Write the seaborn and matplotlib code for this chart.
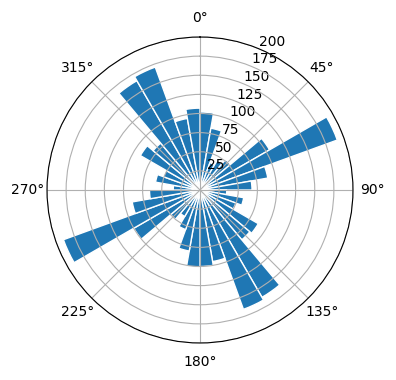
import numpy as np
import pandas as pd
import seaborn as sns
from matplotlib import pyplot as plt

# wind-rose style counts, one bar per 10 degree sector (sector centres in degrees)
directions = list(range(5, 360, 10))
counts = [102, 82, 38, 45, 52, 105, 191, 90, 68,
          35, 58, 50, 88, 85, 162, 166, 95, 100,
          101, 81, 55, 40, 50, 100, 190, 90, 66,
          35, 59, 51, 90, 80, 165, 171, 95, 107]
r_ticks = [25, 50, 75, 100, 125, 150, 175, 200]

df = pd.DataFrame({"theta": np.deg2rad(directions), "count": counts})

fig = plt.figure(figsize=(3.96, 3.8), dpi=100)
ax = fig.add_axes([47 / 396, 37 / 380, 306 / 396, 306 / 380], projection="polar")
ax.set_theta_zero_location("N")
ax.set_theta_direction(-1)

sns.barplot(data=df, x="theta", y="count", native_scale=True, width=1,
            color="#1f77b4", saturation=1, edgecolor="white", linewidth=1,
            errorbar=None, ax=ax)

ax.set_ylim(0, 200)
ax.set_yticks(r_ticks)
ax.set_xlabel("")
ax.set_ylabel("")

fig.savefig("out.png", dpi=100)
